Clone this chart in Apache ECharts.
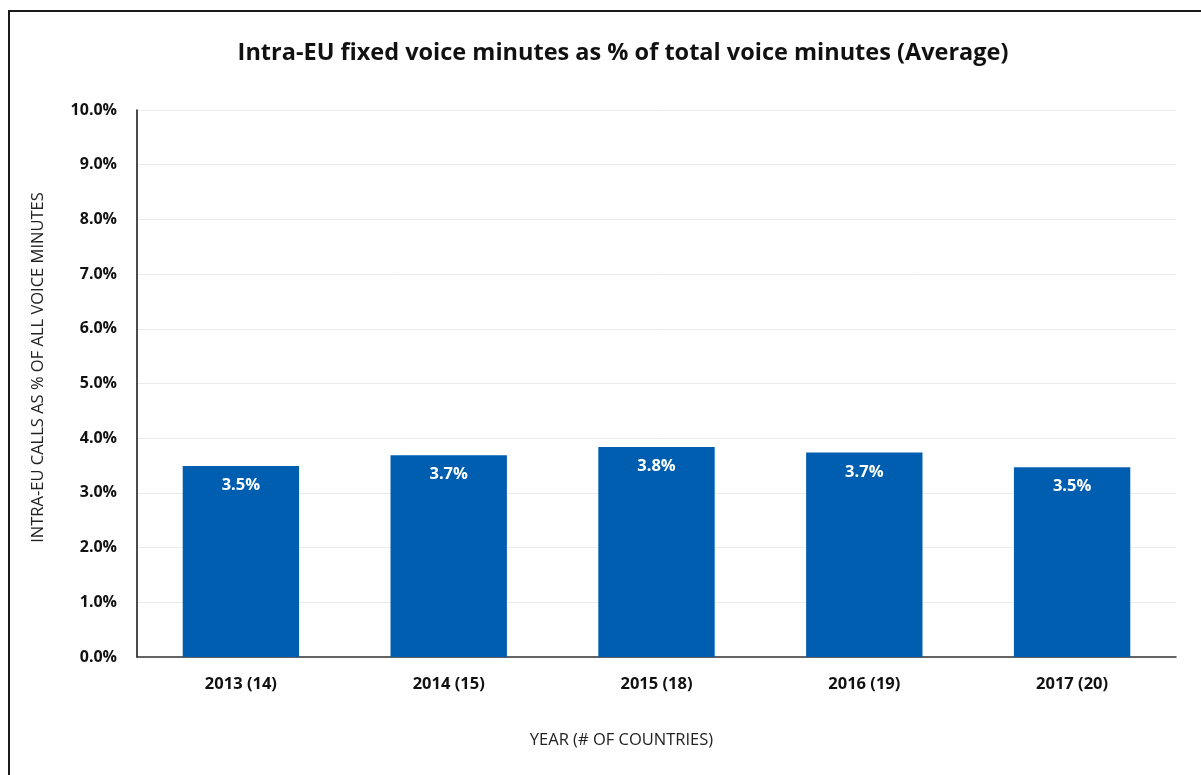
<!DOCTYPE html>
<html>
<head>
<meta charset="utf-8">
<script src="https://cdn.jsdelivr.net/npm/echarts@6/dist/echarts.min.js"></script>
<style>
  html, body { margin: 0; padding: 0; background: #fff; }
  #frame { position: absolute; left: 8px; top: 10px; width: 1200px; height: 780px; border: 2px solid #1a1a1a; box-sizing: border-box; }
  #chart { position: absolute; left: 0; top: 0; width: 1201px; height: 775px; }
</style>
</head>
<body>
<div id="frame"></div>
<div id="chart"></div>
<script>
// Average share of intra-EU fixed voice minutes, by year (number of reporting countries)
const categories = ['2013 (14)', '2014 (15)', '2015 (18)', '2016 (19)', '2017 (20)'];
const shareValues = [3.49, 3.69, 3.84, 3.74, 3.47];
const yTicks = [0, 1, 2, 3, 4, 5, 6, 7, 8, 9, 10];

const FONT = 'Open Sans';
const chart = echarts.init(document.getElementById('chart'), null, { renderer: 'canvas' });

chart.setOption({
  backgroundColor: 'transparent',
  animation: false,
  title: {
    text: 'Intra-EU fixed voice minutes as % of total voice minutes (Average)',
    left: 618,
    textAlign: 'center',
    top: 36,
    textStyle: { fontFamily: FONT, fontWeight: 'bold', fontSize: 23.5, color: '#111' }
  },
  grid: { left: 137, right: 25, top: 110, bottom: 118, containLabel: false },
  xAxis: {
    type: 'category',
    data: categories,
    name: 'YEAR (# OF COUNTRIES)',
    nameLocation: 'middle',
    nameGap: 75,
    nameTextStyle: { fontFamily: FONT, fontSize: 16.5, color: '#222', padding: [0, 70, 0, 0] },
    axisLine: { lineStyle: { color: '#333', width: 1.5 } },
    axisTick: { show: false },
    axisLabel: { fontFamily: FONT, fontWeight: 'bold', fontSize: 16.5, color: '#111', margin: 19 }
  },
  yAxis: {
    type: 'value',
    min: yTicks[0],
    max: yTicks[yTicks.length - 1],
    interval: 1,
    name: 'INTRA-EU CALLS AS % OF ALL VOICE MINUTES',
    nameLocation: 'middle',
    nameGap: 90,
    nameRotate: 90,
    nameTextStyle: { fontFamily: FONT, fontSize: 16.5, color: '#222', padding: [0, 0, 0, 32] },
    axisLine: { show: true, lineStyle: { color: '#111', width: 1.5 } },
    axisTick: { show: false },
    axisLabel: {
      fontFamily: FONT, fontWeight: 'bold', fontSize: 16, color: '#111', margin: 20,
      formatter: v => v.toFixed(1) + '%'
    },
    splitLine: { lineStyle: { color: '#ebebeb', width: 1 } }
  },
  series: [{
    type: 'bar',
    data: shareValues,
    barWidth: '56%',
    itemStyle: { color: '#005eb0' },
    label: {
      show: true,
      position: 'insideTop',
      distance: 11,
      fontFamily: FONT, fontWeight: 'bold', fontSize: 16.5, color: '#fff',
      formatter: p => p.value.toFixed(1) + '%'
    }
  }]
});
</script>
</body>
</html>
